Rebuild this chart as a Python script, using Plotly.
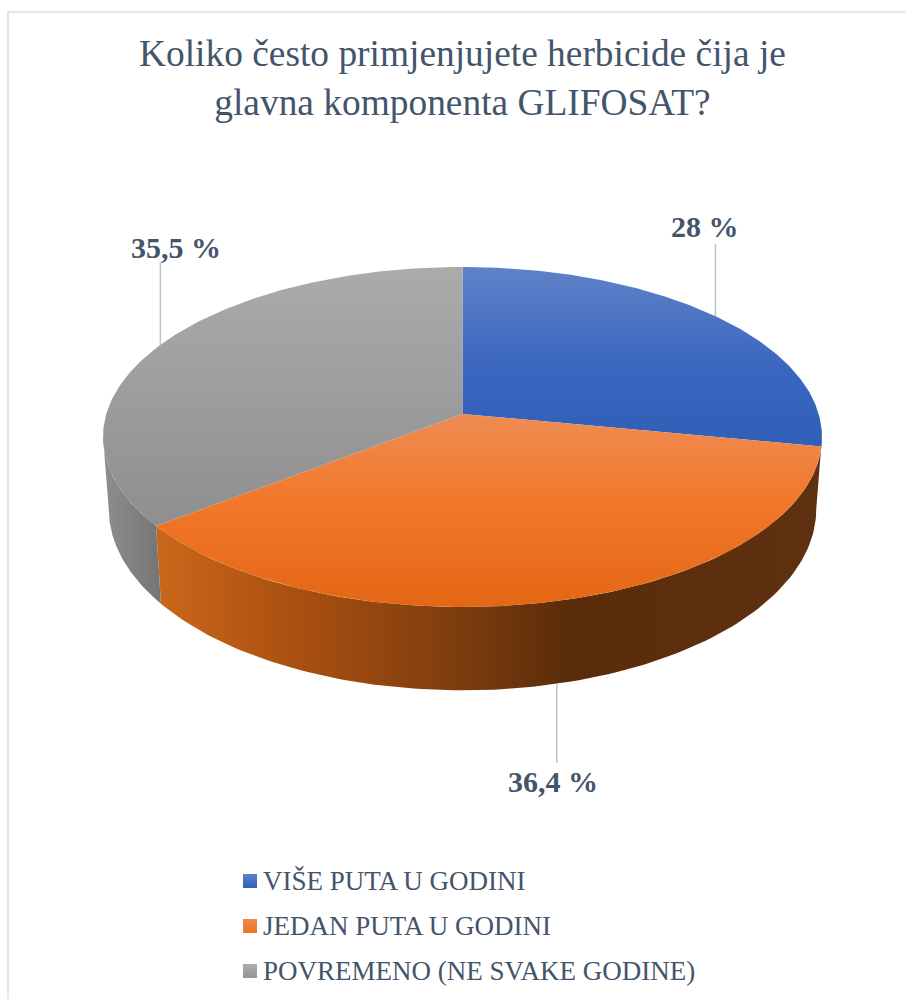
import numpy as np
import plotly.graph_objects as go

# ---- data ----
CATEGORIES = ["VIŠE PUTA U GODINI", "JEDAN PUTA U GODINI", "POVREMENO (NE SVAKE GODINE)"]
VALUES = [28.0, 36.4, 35.5]
VALUE_LABELS = ["28 %", "36,4 %", "35,5 %"]
TITLE = "Koliko često primjenjujete herbicide čija je<br>glavna komponenta GLIFOSAT?"

# ---- style ----
TEXT = "#44546a"
SERIF = "Liberation Serif"
LEADER = "#b8c4d4"
LEGEND_TOP = ["#5f82c8", "#f08a50", "#aeaeae"]
LEGEND_BOT = ["#2f5fb8", "#ee7420", "#949494"]
TOP_STOPS = [
    ([267, 370, 450], ["#5f82c8", "#3a66bf", "#2f5fb8"]),
    ([414, 500, 610], ["#ee8c54", "#f2782a", "#e36614"]),
    ([267, 530], ["#ababab", "#8e8e8e"]),
]
SIDE_STOPS = [
    None,
    ([155, 300, 450, 570, 825], ["#cb671b", "#a94f10", "#7f3e0e", "#5a2c0a", "#603110"]),
    ([103, 160], ["#8e8e8e", "#757575"]),
]

# projection of the pie disc on the chart's pixel axes
CX, K = 462.5, 0.1352
TOP = dict(a=356.2, b=166.9, y=414.0)
BOT = dict(a=350.5, b=178.0, y=484.5)


def project(theta_deg, d):
    t = np.radians(theta_deg)
    X, Y = np.sin(t), np.cos(t)
    w = 1 + K * Y
    return CX + d["a"] * X / w, d["y"] - d["b"] * Y / w


def scale(stops):
    pos, cols = stops
    return [[(p - pos[0]) / (pos[-1] - pos[0]), c] for p, c in zip(pos, cols)]


fig = go.Figure()


def fill(xs, ys, stops, kind):
    fig.add_trace(go.Scatter(
        x=xs, y=ys, mode="lines", fill="toself",
        fillgradient=dict(type=kind, colorscale=scale(stops), start=stops[0][0], stop=stops[0][-1]),
        line=dict(width=0), hoverinfo="skip", showlegend=False))


total = sum(VALUES)
bounds = np.cumsum([0] + VALUES) / total * 360
bounds[-1] = 360
silhouette = np.degrees(np.arccos(-K))

# side wall
side_ranges = {1: (silhouette, bounds[2]), 2: (bounds[2], 360 - silhouette)}
for idx, (a0, a1) in side_ranges.items():
    th = np.linspace(a0, a1, 120)
    tx, ty = project(th, TOP)
    bx, by = project(th[::-1], BOT)
    fill(np.r_[tx, bx, tx[0]].tolist(), np.r_[ty, by, ty[0]].tolist(), SIDE_STOPS[idx], "horizontal")

# top face
for idx in range(len(VALUES)):
    th = np.linspace(bounds[idx], bounds[idx + 1], 160)
    rx, ry = project(th, TOP)
    fill(np.r_[CX, rx, CX].tolist(), np.r_[TOP["y"], ry, TOP["y"]].tolist(), TOP_STOPS[idx], "vertical")

# leader lines and value labels, anchored on each slice's mid angle
mids = (bounds[:-1] + bounds[1:]) / 2
LEADER_ENDS = [244, 763, 262]
LABEL_POS = [(705, 226), (553, 781), (176, 247)]
for idx, m in enumerate(mids):
    px, py = project(m, BOT if idx == 1 else TOP)
    fig.add_trace(go.Scatter(x=[px, px], y=[py, LEADER_ENDS[idx]], mode="lines",
                             line=dict(color=LEADER, width=1.5), hoverinfo="skip", showlegend=False))
    fig.add_annotation(x=LABEL_POS[idx][0], y=LABEL_POS[idx][1], text=VALUE_LABELS[idx], showarrow=False,
                       xanchor="center", yanchor="middle",
                       font=dict(family=SERIF, size=30, color=TEXT, weight="bold"))

# legend entries
LEGEND_Y = [881, 926, 971]
for idx, name in enumerate(CATEGORIES):
    fig.add_trace(go.Scatter(x=[250], y=[LEGEND_Y[idx]], mode="markers", name=name,
                             marker=dict(symbol="square", size=14, color=LEGEND_TOP[idx],
                                         gradient=dict(type="vertical", color=LEGEND_BOT[idx])),
                             hoverinfo="skip", showlegend=False))
    fig.add_annotation(x=260.5, y=LEGEND_Y[idx], text=name, showarrow=False, xanchor="left", yanchor="middle",
                       font=dict(family=SERIF, size=27, color=TEXT))

fig.update_layout(
    width=905, height=999, autosize=False,
    margin=dict(l=0, r=0, t=0, b=0),
    paper_bgcolor="white", plot_bgcolor="white",
    xaxis=dict(range=[0, 905], visible=False, fixedrange=True),
    yaxis=dict(range=[999, 0], visible=False, fixedrange=True),
    title=dict(text=TITLE, x=0.511, xanchor="center", y=0.934, yanchor="middle",
               font=dict(family=SERIF, size=37.4, color=TEXT)),
    shapes=[dict(type="rect", xref="x", yref="y", x0=8, y0=12, x1=930, y1=1020,
                 line=dict(color="#e1e6ec", width=2), layer="below")],
)
fig.write_html("out.html", config={"displayModeBar": False},
               post_script="document.body.style.margin='0';document.documentElement.style.overflow='hidden';")
